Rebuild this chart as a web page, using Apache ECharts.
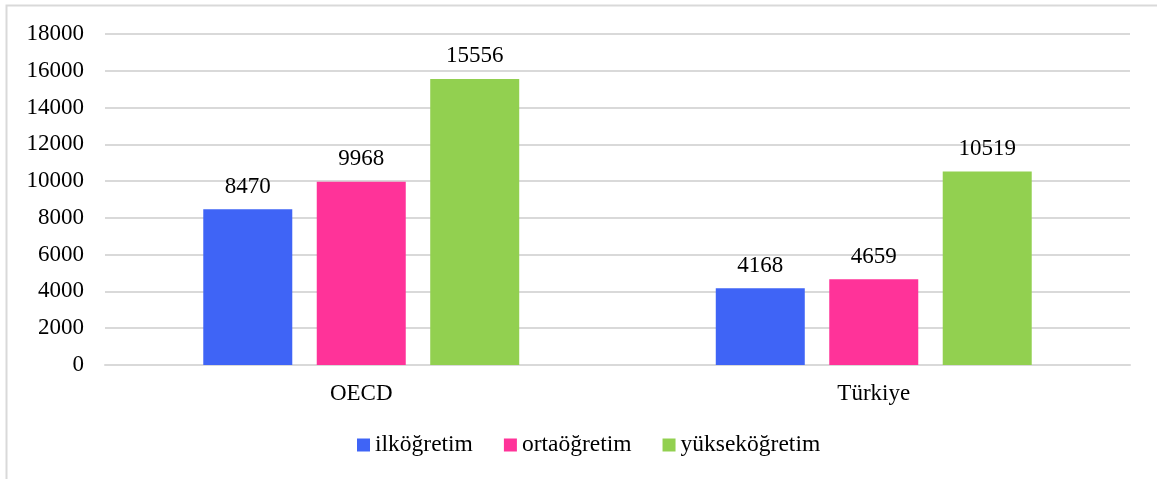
<!DOCTYPE html>
<html>
<head>
<meta charset="utf-8">
<script src="https://cdn.jsdelivr.net/npm/echarts@6/dist/echarts.min.js"></script>
<style>html,body{margin:0;padding:0;background:#fff;}#c{width:1157px;height:479px;}</style>
</head>
<body>
<div id="c"></div>
<script>
const categories = ['OECD', 'Türkiye'];
const seriesNames = ['ilköğretim', 'ortaöğretim', 'yükseköğretim'];
const ilkogretim = [8470, 4168];
const ortaogretim = [9968, 4659];
const yuksekogretim = [15556, 10519];
const colors = ['#3F64F6', '#FF3399', '#92D050'];
const font = '"Liberation Serif", "Times New Roman", serif';

const chart = echarts.init(document.getElementById('c'));
const mk = (name, data, color) => ({
  name, type: 'bar', data,
  itemStyle: { color },
  barWidth: 89,
  barGap: '27.5%',
  label: { show: true, position: 'top', distance: 11, color: '#000', fontFamily: font, fontSize: 23 }
});
chart.setOption({
  animation: false,
  graphic: [{ type: 'rect', shape: { x: 6.5, y: 5.5, width: 1170, height: 490 }, style: { fill: 'none', stroke: '#d9d9d9', lineWidth: 2 } }],
  grid: { left: 105, right: 27, top: 34, bottom: 114 },
  legend: {
    top: 433, left: 357, padding: 0, itemWidth: 13, itemHeight: 13, itemGap: 31,
    icon: 'rect',
    textStyle: { fontFamily: font, fontSize: 23.5, color: '#000' },
    data: seriesNames
  },
  xAxis: {
    type: 'category', data: categories,
    axisLine: { lineStyle: { color: '#d9d9d9', width: 2 } },
    axisTick: { show: false },
    axisLabel: { fontFamily: font, fontSize: 23, color: '#000', margin: 17 }
  },
  yAxis: {
    type: 'value', min: 0, max: 18000, interval: 2000,
    axisLine: { show: false }, axisTick: { show: false },
    splitLine: { lineStyle: { color: '#d9d9d9', width: 2 } },
    axisLabel: { fontFamily: font, fontSize: 23, color: '#000', margin: 21, formatter: v => String(v) }
  },
  series: [
    mk(seriesNames[0], ilkogretim, colors[0]),
    mk(seriesNames[1], ortaogretim, colors[1]),
    mk(seriesNames[2], yuksekogretim, colors[2])
  ]
});
</script>
</body>
</html>
